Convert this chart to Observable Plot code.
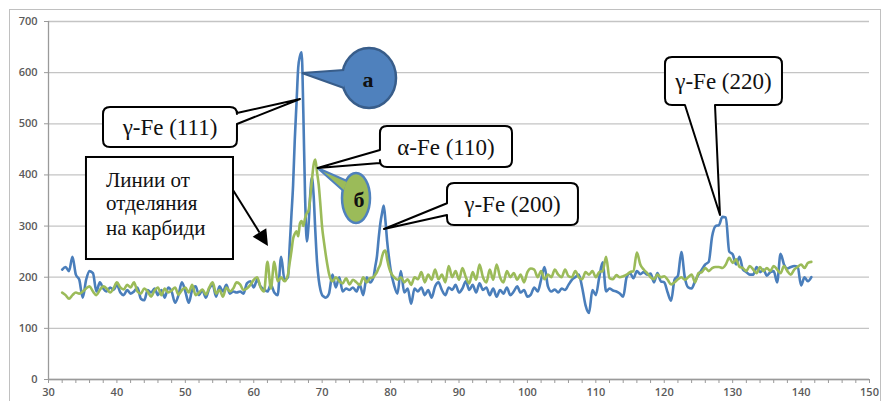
<!DOCTYPE html>
<html><head><meta charset="utf-8">
<script src="https://cdn.jsdelivr.net/npm/d3@7"></script>
<script src="https://cdn.jsdelivr.net/npm/@observablehq/plot@0.6"></script>
<style>html,body{margin:0;padding:0;background:#fff} svg{display:block}</style>
</head><body><div id="chart"></div>
<script>
// 2θ positions (degrees)
const twoTheta = [
 32,32.5,33,33.5,34,34.5,35,35.5,36,36.5,37,37.5,38,38.5,39,39.5,40,40.5,41,41.5,
 42,42.5,43,43.5,44,44.5,45,45.5,46,46.5,47,47.5,48,48.5,49,49.5,50,50.5,51,51.5,
 52,52.5,53,53.5,54,54.5,55,55.5,56,56.5,57,57.5,58,58.5,59,59.5,60,60.5,61,61.5,
 62,62.5,63,63.5,64,64.5,65,65.25,65.5,65.75,66,66.25,66.5,66.75,67,67.25,67.5,67.75,
 68,68.25,68.5,68.75,69,69.25,69.5,69.75,70,70.25,70.5,70.75,71,71.5,72,72.5,73,73.5,
 74,74.5,75,75.5,76,76.5,77,77.5,77.75,78,78.25,78.5,78.75,79,79.25,79.5,79.75,80,
 80.5,81,81.5,82,82.5,83,83.5,84,84.5,85,85.5,86,86.5,87,87.5,88,88.5,89,89.5,90,
 90.5,91,91.5,92,92.5,93,93.5,94,94.5,95,95.5,96,96.5,97,97.5,98,98.5,99,99.5,100,
 100.5,101,101.5,102,102.5,103,103.5,104,104.5,105,105.5,106,106.5,107,107.5,108,108.5,109,109.5,110,
 110.5,111,111.5,112,112.5,113,113.5,114,114.5,115,115.5,116,116.5,117,117.5,118,118.5,119,119.5,120,
 120.5,121,121.5,122,122.5,123,123.5,124,124.5,125,125.5,126,126.5,127,127.5,128,128.5,129,129.5,130,
 130.5,131,131.5,132,132.5,133,133.5,134,134.5,135,135.5,136,136.5,137,137.5,138,138.5,139,139.5,140,
 140.5,141,141.5
];
// series а (blue) intensity
const seriesA = [
 215,220,212,240,205,195,160,195,212,208,172,190,178,172,180,175,185,170,165,175,
 168,172,180,158,155,175,170,178,165,175,160,180,172,150,165,190,172,150,175,182,
 165,175,160,178,185,162,182,172,185,168,172,170,172,168,188,192,180,195,182,176,
 172,185,170,165,240,195,200,260,320,380,470,540,610,632,640,520,360,270,
 300,360,395,360,290,230,195,175,165,162,160,162,168,205,180,200,172,178,
 175,180,172,185,165,200,190,200,220,240,275,305,325,340,310,270,240,215,
 185,168,212,170,178,148,178,172,180,165,175,160,182,190,175,165,180,175,185,170,
 178,192,175,185,170,188,175,180,165,178,162,175,168,180,165,172,182,170,175,162,
 166,180,172,195,220,182,172,176,170,178,175,185,195,200,205,180,145,130,175,165,
 200,229,172,178,174,172,168,162,200,208,198,212,206,210,205,207,190,208,192,190,
 170,154,195,203,249,200,180,178,192,205,215,225,230,280,300,302,318,317,250,245,
 225,240,215,210,205,205,220,210,215,203,210,212,190,246,225,217,220,222,220,184,
 200,192,200
];
// series б (green) intensity
const seriesB = [
 170,165,158,165,170,168,172,178,182,172,165,175,182,178,170,178,190,180,176,185,
 180,190,172,168,178,172,162,174,180,165,178,170,174,180,166,175,180,170,185,165,
 170,176,166,180,190,168,175,162,180,172,178,190,186,175,178,185,195,200,180,172,
 230,178,230,192,200,192,205,228,250,275,285,290,280,305,310,300,315,325,
 330,355,390,420,430,405,380,340,297,270,246,225,207,192,200,192,188,198,
 186,195,190,185,200,190,198,200,205,210,218,225,240,250,252,235,220,210,
 200,195,200,190,196,185,200,196,210,190,205,195,215,196,205,190,222,200,212,195,
 218,200,188,210,195,225,200,190,215,195,225,200,190,212,200,208,195,205,190,210,
 217,215,200,212,196,205,200,215,205,200,215,202,200,212,200,196,210,205,212,200,
 210,212,240,198,196,204,200,202,205,210,212,248,225,215,208,200,196,205,200,202,
 195,186,190,196,200,195,200,205,190,208,210,218,212,218,220,220,218,225,238,228,
 235,220,218,212,222,215,208,220,212,218,212,222,215,208,222,212,205,215,220,225,
 218,228,230
];
const xTicks = [30,40,50,60,70,80,90,100,110,120,130,140,150];
const xMinorTicks = d3.range(30, 151, 2);
const yTicks = [0,100,200,300,400,500,600,700];
const calloutLabels = ["γ-Fe (111)", "α-Fe (110)", "γ-Fe (200)", "γ-Fe (220)"];
const noteLines = ["Линии от", "отделяния", "на карбиди"];
const markerLabels = ["а", "б"];

const rows = twoTheta.map((t, i) => ({t, a: seriesA[i], b: seriesB[i]}));

const plot = Plot.plot({
  width: 886, height: 401,
  marginLeft: 48, marginRight: 17, marginTop: 21, marginBottom: 22,
  x: {domain: [30, 150]},
  y: {domain: [0, 700]},
  style: {fontFamily: "'Open Sans', sans-serif", fontSize: "11px", color: "#5a5a5a", background: "white"},
  marks: [
    Plot.gridY(yTicks, {stroke: "#c4c4c4", strokeOpacity: 1, strokeWidth: 1.3}),
    Plot.axisY(yTicks, {tickSize: 4, tickPadding: 7, fontWeight: 600, stroke: "#9a9a9a", label: null}),
    Plot.axisX(xMinorTicks, {tickSize: 4, tickFormat: () => "", stroke: "#9a9a9a", label: null}),
    Plot.axisX(xTicks, {tickSize: 0, tickPadding: 9, fontWeight: 600, label: null}),
    Plot.ruleX([30], {stroke: "#9a9a9a", strokeWidth: 1.3}),
    Plot.ruleY([0], {stroke: "#9a9a9a", strokeWidth: 1.3}),
    Plot.line(rows, {x: "t", y: "a", stroke: "#4a7ebb", strokeWidth: 2.6, curve: "monotone-x"}),
    Plot.line(rows, {x: "t", y: "b", stroke: "#9bbb59", strokeWidth: 2.6, curve: "monotone-x"})
  ]
});
document.getElementById("chart").append(plot);

// ---- annotations, positioned in data coordinates through the plot's scales ----
const sx = plot.scale("x"), sy = plot.scale("y");
const X = v => sx.apply(v), Y = v => sy.apply(v);
const svg = d3.select(plot);

// outer chart border
svg.append("rect").attr("x", 9.5).attr("y", 9.5).attr("width", 871).attr("height", 400)
  .attr("fill", "none").attr("stroke", "#c0c0c0").attr("stroke-width", 1);

const ann = svg.append("g");
const serif = "'Liberation Serif', 'Times New Roman', serif";
function serifText(x, y, s, size, anchor, weight) {
  return ann.append("text").attr("x", x).attr("y", y)
    .style("font-family", serif).style("font-size", size + "px")
    .style("font-weight", weight || "normal").style("text-anchor", anchor)
    .style("fill", "#111").text(s);
}

const callouts = [
  {label: calloutLabels[0], x1: 38.04, x2: 57.62, y1: 531.9, y2: 453.6, side: "right", n1: 520.1, n2: 498.6, tip: [66.83, 547.5]},
  {label: calloutLabels[1], x1: 78.52, x2: 97.82, y1: 494.7, y2: 414.5, side: "left", n1: 447.8, n2: 422.3, tip: [69.4, 412.6]},
  {label: calloutLabels[2], x1: 88.32, x2: 107.46, y1: 383.2, y2: 301.1, side: "left", n1: 343.6, n2: 320.7, tip: [79.11, 293.3]},
  {label: calloutLabels[3], x1: 120.18, x2: 137.28, y1: 629.6, y2: 535.8, side: "bottom", n1: 123.1, n2: 127.49, tip: [128.22, 320.7]}
];

function calloutPath(c) {
  const x0 = X(c.x1), x1 = X(c.x2), y0 = Y(c.y1), y1 = Y(c.y2), r = 7;
  const tx = X(c.tip[0]), ty = Y(c.tip[1]);
  let p = `M${x0 + r},${y0} H${x1 - r} Q${x1},${y0} ${x1},${y0 + r}`;
  if (c.side === "right") {
    const a = Math.min(Y(c.n1), Y(c.n2)), b = Math.max(Y(c.n1), Y(c.n2));
    p += ` V${a} L${tx},${ty} L${x1},${b}`;
  }
  p += ` V${y1 - r} Q${x1},${y1} ${x1 - r},${y1}`;
  if (c.side === "bottom") {
    const a = Math.max(X(c.n1), X(c.n2)), b = Math.min(X(c.n1), X(c.n2));
    p += ` H${a} L${tx},${ty} L${b},${y1}`;
  }
  p += ` H${x0 + r} Q${x0},${y1} ${x0},${y1 - r}`;
  if (c.side === "left") {
    const a = Math.max(Y(c.n1), Y(c.n2)), b = Math.min(Y(c.n1), Y(c.n2));
    p += ` V${a} L${tx},${ty} L${x0},${b}`;
  }
  p += ` V${y0 + r} Q${x0},${y0} ${x0 + r},${y0} Z`;
  return p;
}

// marker bubbles
const markers = [
  {label: markerLabels[0], cx: 76.92, cy: 588.6, rx: 27, ry: 30, fill: "#4f81bd", stroke: "#385d8a",
   tip: [67.12, 598.3], base: [[-25, -8], [-25, 10]], textDx: -1, textDy: 9},
  {label: markerLabels[1], cx: 75.02, cy: 353.9, rx: 14, ry: 25, fill: "#9bbb59", stroke: "#4f81bd",
   tip: [69.4, 412.6], base: [[-9, -17], [-12.5, -7]], textDx: 3, textDy: 9}
];
for (const m of markers) {
  const cx = X(m.cx), cy = Y(m.cy);
  ann.append("ellipse").attr("cx", cx).attr("cy", cy).attr("rx", m.rx).attr("ry", m.ry)
    .attr("fill", m.fill).attr("stroke", m.stroke).attr("stroke-width", 2.5);
  const [b1, b2] = m.base;
  ann.append("path")
    .attr("d", `M${cx + b1[0]},${cy + b1[1]} L${X(m.tip[0])},${Y(m.tip[1])} L${cx + b2[0]},${cy + b2[1]}`)
    .attr("fill", m.fill).attr("stroke", m.stroke).attr("stroke-width", 2).attr("stroke-linejoin", "miter");
  serifText(cx + m.textDx, cy + m.textDy, m.label, 22, "middle", "bold");
}

for (const c of callouts) {
  ann.append("path").attr("d", calloutPath(c)).attr("fill", "white")
    .attr("stroke", "#000").attr("stroke-width", 2).attr("stroke-linejoin", "round");
  serifText((X(c.x1) + X(c.x2)) / 2, (Y(c.y1) + Y(c.y2)) / 2 + 8, c.label, 23, "middle");
}

// note box with arrow
const note = {x1: 35.55, x2: 57.04, y1: 434.1, y2: 234.6, textX: 38.48, baselines: [375.4, 329.5, 281.6],
  from: [57.04, 369.6], to: [62.15, 260.1]};
ann.append("rect").attr("x", X(note.x1)).attr("y", Y(note.y1))
  .attr("width", X(note.x2) - X(note.x1)).attr("height", Y(note.y2) - Y(note.y1))
  .attr("fill", "white").attr("stroke", "#000").attr("stroke-width", 2);
noteLines.forEach((s, i) => serifText(X(note.textX), Y(note.baselines[i]), s, 21, "start"));
{
  const x0 = X(note.from[0]), y0 = Y(note.from[1]), x1 = X(note.to[0]), y1 = Y(note.to[1]);
  const dx = x1 - x0, dy = y1 - y0, L = Math.hypot(dx, dy), ux = dx / L, uy = dy / L;
  const hl = 16, hw = 8;
  const bx = x1 - ux * hl, by = y1 - uy * hl;
  ann.append("line").attr("x1", x0).attr("y1", y0).attr("x2", bx).attr("y2", by)
    .attr("stroke", "#000").attr("stroke-width", 2);
  ann.append("path")
    .attr("d", `M${x1},${y1} L${bx - uy * hw},${by + ux * hw} L${bx + uy * hw},${by - ux * hw} Z`)
    .attr("fill", "#000");
}
</script>
</body></html>
